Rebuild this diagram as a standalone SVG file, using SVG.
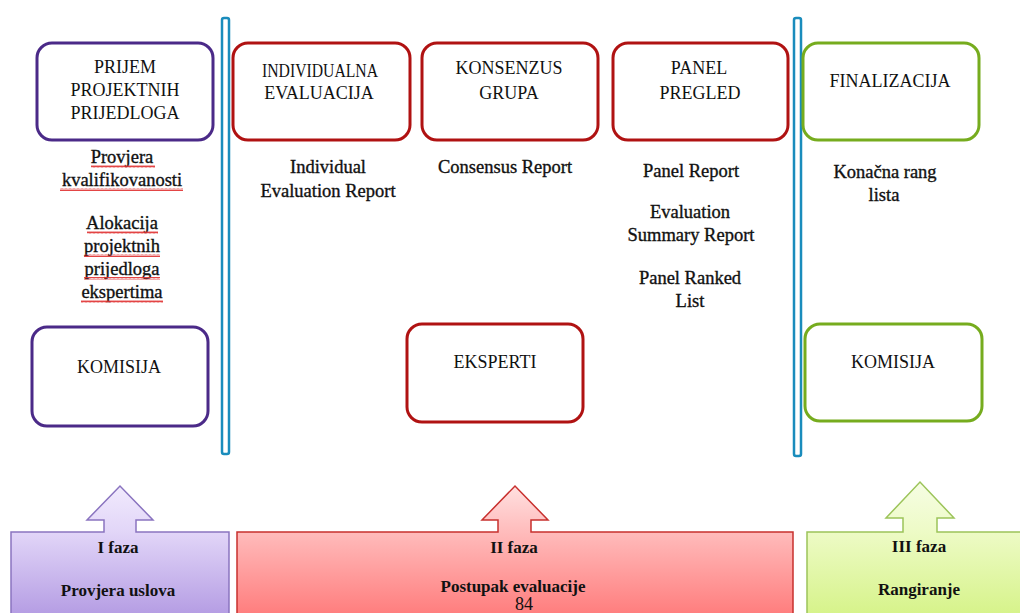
<svg xmlns="http://www.w3.org/2000/svg" width="1020" height="613" viewBox="0 0 1020 613">
<defs>
<linearGradient id="gP" x1="0" y1="0" x2="0" y2="1"><stop offset="0" stop-color="#f1eafd"/><stop offset="0.35" stop-color="#e2d6f8"/><stop offset="1" stop-color="#b49ce3"/></linearGradient>
<linearGradient id="gR" x1="0" y1="0" x2="0" y2="1"><stop offset="0" stop-color="#ffe0e0"/><stop offset="0.35" stop-color="#ffbcbc"/><stop offset="1" stop-color="#ff7c7c"/></linearGradient>
<linearGradient id="gG" x1="0" y1="0" x2="0" y2="1"><stop offset="0" stop-color="#f6fde4"/><stop offset="0.35" stop-color="#eefbc8"/><stop offset="1" stop-color="#d6f389"/></linearGradient>
<pattern id="sq" width="4" height="3" patternUnits="userSpaceOnUse"><path d="M0,2.5 L1,0.5 L2,2.5 L3,0.5 L4,2.5" fill="none" stroke="#e03030" stroke-width="0.9"/></pattern>
</defs>
<style>
text{font-family:'Liberation Serif',Tinos,'Noto Serif','DejaVu Serif',serif;}
.t{font-size:18px;fill:#111;text-anchor:middle;}
.s{font-size:18.5px;fill:#111;text-anchor:middle;stroke:#111;stroke-width:0.35;}
.b{font-size:17px;font-weight:bold;fill:#111;text-anchor:middle;}
.pu{fill:#fff;stroke:#4b2a88;stroke-width:3;}
.rd{fill:#fff;stroke:#b01212;stroke-width:3;}
.gr{fill:#fff;stroke:#76ac1e;stroke-width:3;}
.vl{fill:#fff;stroke:#1a8cbc;stroke-width:2.5;}
.sqr{fill:url(#sq);}
</style>

<g id="dividers">
<rect class="vl" x="222" y="18" width="7" height="436" rx="2"/>
<rect class="vl" x="794" y="18" width="7" height="438" rx="2"/>
</g>

<g id="prijem">
<rect class="pu" x="37" y="43" width="176" height="97" rx="15"/>
<text class="t" x="125" y="73">PRIJEM</text>
<text class="t" x="125" y="96">PROJEKTNIH</text>
<text class="t" x="125" y="119">PRIJEDLOGA</text>
</g>
<g id="prijem-notes">
<text class="s" x="122" y="163">Provjera</text>
<text class="s" x="122" y="186">kvalifikovanosti</text>
<text class="s" x="122" y="229">Alokacija</text>
<text class="s" x="122" y="252">projektnih</text>
<text class="s" x="122" y="275">prijedloga</text>
<text class="s" x="122" y="298">ekspertima</text>
<rect class="sqr" x="91" y="165" width="64" height="3"/>
<rect class="sqr" x="60" y="188" width="123" height="3"/>
<rect class="sqr" x="87" y="231" width="71" height="3"/>
<rect class="sqr" x="84" y="254" width="76" height="3"/>
<rect class="sqr" x="84" y="277" width="76" height="3"/>
<rect class="sqr" x="81" y="300" width="82" height="3"/>
</g>

<g id="individualna">
<rect class="rd" x="233" y="43" width="177" height="97" rx="15"/>
<text class="t" x="320" y="77" font-size="16" textLength="116" lengthAdjust="spacingAndGlyphs">INDIVIDUALNA</text>
<text class="t" x="319" y="99" font-size="16">EVALUACIJA</text>
</g>
<g id="individualna-notes">
<text class="s" x="328" y="173">Individual</text>
<text class="s" x="328" y="197">Evaluation Report</text>
</g>

<g id="konsenzus">
<rect class="rd" x="422" y="43" width="176" height="97" rx="15"/>
<text class="t" x="509" y="74">KONSENZUS</text>
<text class="t" x="509" y="99">GRUPA</text>
</g>
<g id="konsenzus-notes">
<text class="s" x="505" y="173">Consensus Report</text>
</g>

<g id="panel">
<rect class="rd" x="613" y="43" width="175" height="97" rx="15"/>
<text class="t" x="699" y="74">PANEL</text>
<text class="t" x="700" y="99">PREGLED</text>
</g>
<g id="panel-notes">
<text class="s" x="691" y="177">Panel Report</text>
<text class="s" x="690" y="218">Evaluation</text>
<text class="s" x="691" y="241">Summary Report</text>
<text class="s" x="690" y="284">Panel Ranked</text>
<text class="s" x="690" y="307">List</text>
</g>

<g id="finalizacija">
<rect class="gr" x="803" y="43" width="176" height="97" rx="15"/>
<text class="t" x="890" y="87">FINALIZACIJA</text>
</g>
<g id="finalizacija-notes">
<text class="s" x="885" y="178">Konačna rang</text>
<text class="s" x="884" y="201">lista</text>
</g>

<g id="komisija-1">
<rect class="pu" x="32" y="327" width="176" height="99" rx="15"/>
<text class="t" x="119" y="373">KOMISIJA</text>
</g>
<g id="eksperti">
<rect class="rd" x="407" y="324" width="176" height="98" rx="15"/>
<text class="t" x="495" y="368">EKSPERTI</text>
</g>
<g id="komisija-3">
<rect class="gr" x="805" y="324" width="177" height="97" rx="15"/>
<text class="t" x="893" y="368">KOMISIJA</text>
</g>

<g id="faza-1">
<path d="M11,616 L11,532 L104,532 L104,520 L87,520 L120,486 L153,520 L136,520 L136,532 L229,532 L229,616 Z" fill="url(#gP)" stroke="#8a74c0" stroke-width="1.5"/>
<text class="b" x="118" y="553">I faza</text>
<text class="b" x="118" y="596">Provjera uslova</text>
</g>
<g id="faza-2">
<path d="M237,616 L237,532 L498,532 L498,520 L482,520 L515,486 L548,520 L531,520 L531,532 L793,532 L793,616 Z" fill="url(#gR)" stroke="#c8302e" stroke-width="1.5"/>
<text class="b" x="514" y="553">II faza</text>
<text class="b" x="513" y="592">Postupak evaluacije</text>
<text class="t" x="524" y="610" font-size="12">84</text>
</g>
<g id="faza-3">
<path d="M807,616 L807,532 L903,532 L903,518 L886,518 L920,482 L954,518 L937,518 L937,532 L1022,532 L1022,616 Z" fill="url(#gG)" stroke="#9cc45a" stroke-width="1.5"/>
<text class="b" x="919" y="552">III faza</text>
<text class="b" x="919" y="595">Rangiranje</text>
</g>

<g id="connectors"></g>
</svg>
